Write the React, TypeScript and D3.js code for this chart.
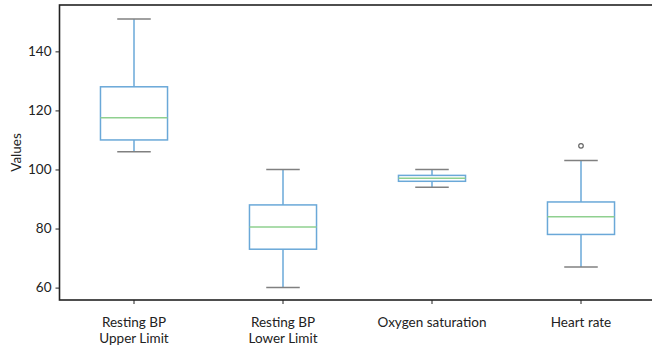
import React, { useRef, useEffect } from "react";
import * as d3 from "d3";

const categories = ["Resting BP\nUpper Limit", "Resting BP\nLower Limit", "Oxygen saturation", "Heart rate"];
const whiskerLow = [106, 60, 94, 67];
const q1 = [110, 73, 96, 78];
const median = [117.5, 80.5, 97, 84];
const q3 = [128, 88, 98, 89];
const whiskerHigh = [151, 100, 100, 103];
const outliers = [[], [], [], [108]];
const yTicks = [60, 80, 100, 120, 140];

const App = () => {
  const svgRef = useRef<SVGSVGElement>(null);

  useEffect(() => {
    const svg = d3.select(svgRef.current);
    svg.selectAll("*").remove();

    const left = 59.5, top = 5, bottom = 300, right = 655.5;
    const font = "Lato, sans-serif";
    const fs = 13.5;

    const x = d3.scaleBand().domain(categories).range([left, right]).padding(0);
    const y = d3.scaleLinear().domain([55.8, 155.7]).range([bottom, top]);
    const boxW = x.bandwidth() * 0.45;
    const capW = boxW / 2;

    const yAxis = svg.append("g")
      .attr("transform", `translate(${left},0)`)
      .call(d3.axisLeft(y).tickValues(yTicks).tickSize(4).tickPadding(4));
    yAxis.select(".domain").remove();
    yAxis.selectAll("line").attr("stroke", "#222");
    yAxis.selectAll("text").attr("font-family", font).attr("font-size", fs).attr("fill", "#222");

    const xAxis = svg.append("g")
      .attr("transform", `translate(0,${bottom})`)
      .call(d3.axisBottom(x).tickSize(4).tickFormat(() => ""));
    xAxis.select(".domain").remove();
    xAxis.selectAll("line").attr("stroke", "#222");

    // category labels, one text per line
    categories.forEach((c) => {
      const cx = x(c)! + x.bandwidth() / 2;
      c.split("\n").forEach((line, i) => {
        svg.append("text")
          .attr("x", cx)
          .attr("y", 326.5 + i * 16.3)
          .attr("text-anchor", "middle")
          .attr("font-family", font)
          .attr("font-size", fs)
          .attr("fill", "#222")
          .text(line);
      });
    });

    svg.append("text")
      .attr("transform", `translate(21,${(top + bottom) / 2}) rotate(-90)`)
      .attr("text-anchor", "middle")
      .attr("font-family", font)
      .attr("font-size", fs)
      .attr("fill", "#222")
      .text("Values");

    const boxColor = "#6aa8d8";
    const g = svg.append("g");
    categories.forEach((c, i) => {
      const cx = x(c)! + x.bandwidth() / 2;
      g.append("line").attr("x1", cx).attr("x2", cx)
        .attr("y1", y(q3[i])).attr("y2", y(whiskerHigh[i]))
        .attr("stroke", boxColor).attr("stroke-width", 1.5);
      g.append("line").attr("x1", cx).attr("x2", cx)
        .attr("y1", y(q1[i])).attr("y2", y(whiskerLow[i]))
        .attr("stroke", boxColor).attr("stroke-width", 1.5);
      [whiskerLow[i], whiskerHigh[i]].forEach((v) => {
        g.append("line").attr("x1", cx - capW / 2).attr("x2", cx + capW / 2)
          .attr("y1", y(v)).attr("y2", y(v))
          .attr("stroke", "#808080").attr("stroke-width", 1.5);
      });
      g.append("rect")
        .attr("x", cx - boxW / 2).attr("width", boxW)
        .attr("y", y(q3[i])).attr("height", y(q1[i]) - y(q3[i]))
        .attr("fill", "none").attr("stroke", boxColor).attr("stroke-width", 1.5);
      g.append("line").attr("x1", cx - boxW / 2).attr("x2", cx + boxW / 2)
        .attr("y1", y(median[i])).attr("y2", y(median[i]))
        .attr("stroke", "#8fd08f").attr("stroke-width", 1.5);
      outliers[i].forEach((v) => {
        g.append("circle").attr("cx", cx).attr("cy", y(v)).attr("r", 2.3)
          .attr("fill", "none").attr("stroke", "#666").attr("stroke-width", 1.2);
      });
    });

    svg.append("rect")
      .attr("x", left).attr("y", top)
      .attr("width", right - left).attr("height", bottom - top)
      .attr("fill", "none").attr("stroke", "#222").attr("stroke-width", 1.6);
  }, []);

  return (
    <svg ref={svgRef} width={652} height={346}
      style={{ position: "absolute", left: 0, top: 0, background: "#fff" }} />
  );
};

export default App;
